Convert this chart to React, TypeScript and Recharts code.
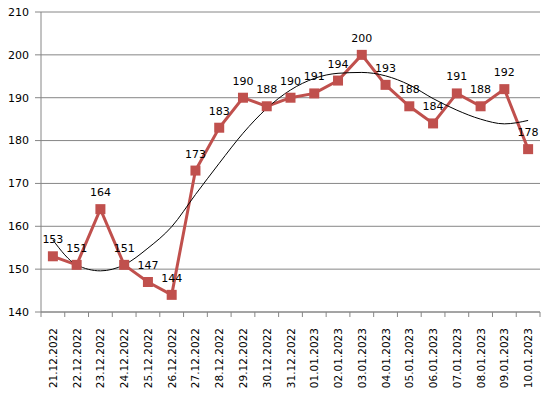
import { LineChart, Line, XAxis, YAxis, CartesianGrid, LabelList } from 'recharts';

const dates = [
  '21.12.2022', '22.12.2022', '23.12.2022', '24.12.2022', '25.12.2022', '26.12.2022',
  '27.12.2022', '28.12.2022', '29.12.2022', '30.12.2022', '31.12.2022', '01.01.2023',
  '02.01.2023', '03.01.2023', '04.01.2023', '05.01.2023', '06.01.2023', '07.01.2023',
  '08.01.2023', '09.01.2023', '10.01.2023',
];
const values = [153, 151, 164, 151, 147, 144, 173, 183, 190, 188, 190, 191, 194, 200, 193, 188, 184, 191, 188, 192, 178];
// polynomial trendline
const trend = [156.8, 151.0, 149.6, 151.0, 154.9, 159.9, 167.4, 174.7, 181.7, 187.5, 191.8, 194.5, 195.7, 195.9, 195.1, 193.0, 189.8, 187.1, 185.0, 183.9, 184.7];
const yTicks = [140, 150, 160, 170, 180, 190, 200, 210];

const data = dates.map((d, i) => ({ date: d, value: values[i], trend: trend[i] }));

const RED = '#C0504D';
const AXIS = '#868686';
const FONT = '"DejaVu Sans", Verdana, sans-serif';
const W = 550;
const H = 397;
const M = { top: 12, right: 10, bottom: 0, left: 0 };
const Y_W = 41;
const X_H = 85;
const step = (W - M.left - M.right - Y_W) / dates.length;

function SquareDot({ cx, cy }: any) {
  if (cx == null || cy == null) return null;
  return <rect x={cx - 5} y={cy - 5} width={10} height={10} fill={RED} />;
}

function DateTick({ x, y, payload, index }: any) {
  const last = index === dates.length - 1;
  return (
    <g>
      <line x1={x - step / 2} y1={y - 8} x2={x - step / 2} y2={y - 3} stroke={AXIS} />
      {last && <line x1={x + step / 2} y1={y - 8} x2={x + step / 2} y2={y - 3} stroke={AXIS} />}
      <text
        x={x + 4}
        y={y + 8}
        transform={`rotate(-90 ${x + 4} ${y + 8})`}
        textAnchor="end"
        fontSize={10.5}
        fontFamily={FONT}
        fill="#000"
      >
        {payload.value}
      </text>
    </g>
  );
}

export default function App() {
  return (
    <div style={{ position: 'absolute', left: 0, top: 0, width: W, height: H, background: '#fff' }}>
      <LineChart width={W} height={H} data={data} margin={M}>
        <CartesianGrid vertical={false} stroke={AXIS} />
        <XAxis
          dataKey="date"
          height={X_H}
          interval={0}
          stroke={AXIS}
          tickLine={false}
          padding={{ left: step / 2, right: step / 2 }}
          tick={<DateTick />}
        />
        <YAxis
          width={Y_W}
          domain={[140, 210]}
          ticks={yTicks}
          stroke={AXIS}
          tickSize={6}
          tickMargin={6}
          tick={{ fontSize: 11, fontFamily: FONT, fill: '#000' }}
        />
        <Line
          type="linear"
          dataKey="value"
          stroke={RED}
          strokeWidth={3}
          dot={<SquareDot />}
          activeDot={false}
          isAnimationActive={false}
        >
          <LabelList
            dataKey="value"
            position="top"
            offset={13}
            fontSize={11}
            fontFamily={FONT}
            fill="#000"
          />
        </Line>
        <Line
          type="monotone"
          dataKey="trend"
          stroke="#000"
          strokeWidth={1}
          dot={false}
          activeDot={false}
          isAnimationActive={false}
        />
      </LineChart>
    </div>
  );
}
